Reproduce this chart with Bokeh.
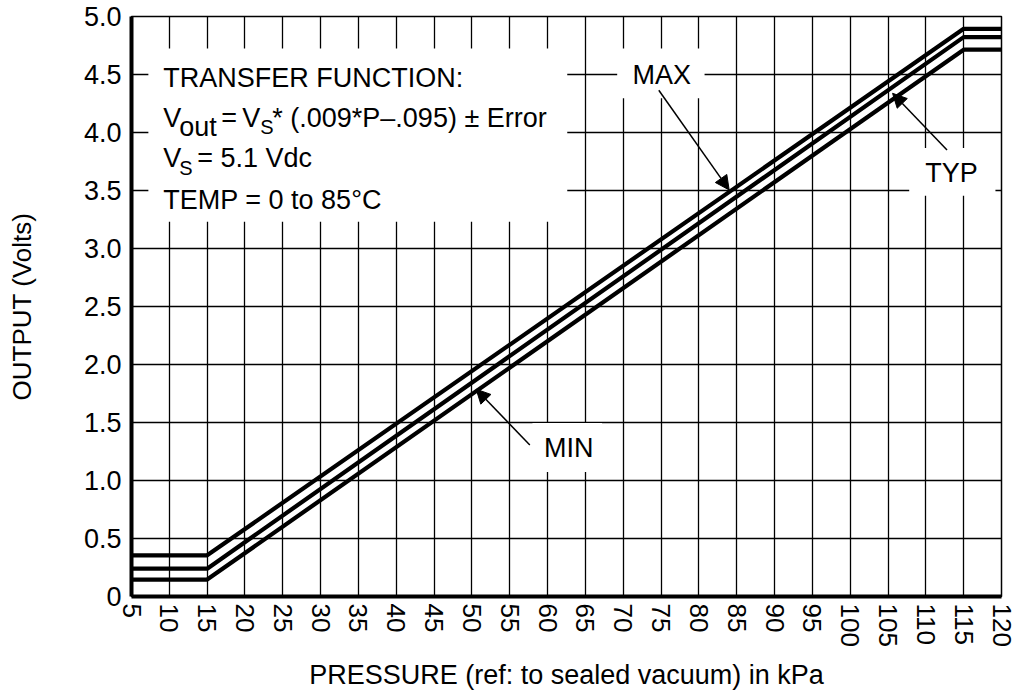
from bokeh.plotting import figure
from bokeh.models import (FixedTicker, PrintfTickFormatter, Label, Arrow, NormalHead)
from bokeh.embed import file_html
from bokeh.resources import INLINE

# ---- data ----
pressure = [5, 15, 115, 120]                 # kPa
v_max = [0.355, 0.355, 4.894, 4.894]         # MAX curve (V)
v_typ = [0.240, 0.240, 4.822, 4.822]         # TYP curve (V)
v_min = [0.146, 0.146, 4.714, 4.714]         # MIN curve (V)

x_ticks = [5, 10, 15, 20, 25, 30, 35, 40, 45, 50, 55, 60, 65, 70, 75, 80,
           85, 90, 95, 100, 105, 110, 115, 120]
y_ticks = [0, 0.5, 1.0, 1.5, 2.0, 2.5, 3.0, 3.5, 4.0, 4.5, 5.0]
y_tick_labels = ["0", "0.5", "1.0", "1.5", "2.0", "2.5", "3.0", "3.5", "4.0", "4.5", "5.0"]

FONT = "Liberation Sans"

p = figure(width=1016, height=692, x_range=(5, 120), y_range=(0, 5),
           output_backend="svg", toolbar_location=None,
           min_border_left=131, min_border_right=15, min_border_top=16,
           min_border_bottom=96)
p.background_fill_color = "white"
p.border_fill_color = "white"
p.outline_line_color = "black"
p.outline_line_width = 1.5

# axes
p.xaxis.ticker = FixedTicker(ticks=x_ticks)
p.yaxis.ticker = FixedTicker(ticks=y_ticks)
p.yaxis.formatter = PrintfTickFormatter(format="%.1f")
p.yaxis.major_label_overrides = {t: l for t, l in zip(y_ticks, y_tick_labels)}

for ax in (p.xaxis[0], p.yaxis[0]):
    ax.axis_line_color = "black"
    ax.axis_line_width = 4
    ax.major_tick_line_color = None
    ax.minor_tick_line_color = None
    ax.major_tick_out = 0
    ax.major_tick_in = 0
    ax.minor_tick_out = 0
    ax.minor_tick_in = 0
    ax.major_label_text_font = FONT
    ax.major_label_text_color = "black"
    ax.axis_label_text_font = FONT
    ax.axis_label_text_font_style = "normal"
    ax.axis_label_text_color = "black"

p.xaxis.major_label_orientation = "vertical"
p.xaxis.major_label_text_font_size = "26px"
p.xaxis.major_label_standoff = 7
p.xaxis.axis_label = "PRESSURE (ref: to sealed vacuum) in kPa"
p.xaxis.axis_label_text_font_size = "27px"
p.xaxis.axis_label_standoff = 10

p.yaxis.major_label_text_font_size = "27px"
p.yaxis.major_label_standoff = 10
p.yaxis.axis_label = "OUTPUT (Volts)"
p.yaxis.axis_label_text_font_size = "26px"
p.yaxis.axis_label_standoff = 44

# grid
p.xgrid.ticker = FixedTicker(ticks=x_ticks)
p.ygrid.ticker = FixedTicker(ticks=y_ticks)
for g in (p.xgrid[0], p.ygrid[0]):
    g.grid_line_color = "black"
    g.grid_line_width = 1.3
    g.grid_line_alpha = 1.0

# white masks behind annotation texts (hide grid lines)
p.quad(left=[7.23, 69.2, 107.8, 58.0], right=[62.6, 80.75, 119.2, 67.2],
       bottom=[3.23, 4.296, 3.454, 1.074], top=[4.725, 4.725, 3.866, 1.495],
       fill_color="white", line_color=None)

# curves
for ys in (v_min, v_typ, v_max):
    p.line(pressure, ys, line_color="black", line_width=4.2)

# annotation texts
DY = 0.086   # lift so that the drawn baseline lands where the reference has it


def txt(x, y, s, dx=0, align="left", size="27px"):
    p.add_layout(Label(x=x, y=y + DY, x_offset=dx, text=s, text_align=align,
                       text_baseline="alphabetic", text_font=FONT,
                       text_font_size=size, text_color="black"))


X0 = 9.2
txt(X0, 4.381, "TRANSFER FUNCTION:")
txt(X0, 4.038, "V")
txt(X0, 3.960, "out", dx=16)
txt(X0, 4.038, "=", dx=58)
txt(X0, 4.038, "V", dx=79)
txt(X0, 3.960, "S", dx=97, size="20px")
txt(X0, 4.038, "* (.009*P\u2013.095) \u00b1 Error", dx=109)
txt(X0, 3.694, "V")
txt(X0, 3.608, "S", dx=16, size="20px")
txt(X0, 3.694, "= 5.1 Vdc", dx=34)
txt(X0, 3.333, "TEMP = 0 to 85\u00b0C")

# curve labels
txt(75.1, 4.407, "MAX", align="center")
txt(113.4, 3.565, "TYP", align="center")
txt(62.8, 1.194, "MIN", align="center")

# arrows
for xs, ys, xe, ye in [(74.7, 4.364, 84.0, 3.505),
                       (112.8, 3.849, 105.6, 4.338),
                       (57.65, 1.306, 50.56, 1.787)]:
    p.add_layout(Arrow(end=NormalHead(size=14, fill_color="black", line_color="black",
                                      line_width=1),
                       x_start=xs, y_start=ys, x_end=xe, y_end=ye,
                       line_color="black", line_width=1.5))

open("out.html", "w").write(file_html(p, INLINE))
